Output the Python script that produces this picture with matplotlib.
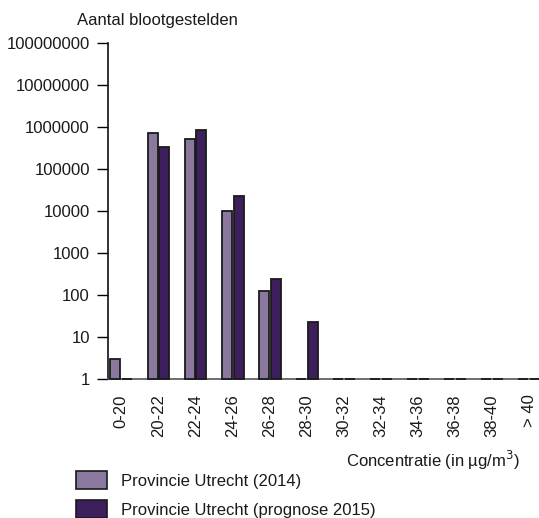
import numpy as np
import matplotlib
matplotlib.use("Agg")
import matplotlib.pyplot as plt
from matplotlib.patches import Patch

plt.rcParams['font.family'] = ['Liberation Sans', 'DejaVu Sans']

categories = ["0-20", "20-22", "22-24", "24-26", "26-28", "28-30",
              "30-32", "32-34", "34-36", "36-38", "38-40", "> 40"]
# number of exposed people per concentration class (1 = none, sits on the baseline)
utrecht_2014 = [3, 730000, 510000, 10200, 126, 1, 1, 1, 1, 1, 1, 1]
utrecht_2015 = [1, 340000, 850000, 23000, 240, 23, 1, 1, 1, 1, 1, 1]
series_names = ["Provincie Utrecht (2014)", "Provincie Utrecht (prognose 2015)"]
y_ticks = [1, 10, 100, 1000, 10000, 100000, 1000000, 10000000, 100000000]

light = "#8a789f"
dark = "#3e1f5e"
edge = "#1a1a1a"
fs = 12

fig = plt.figure(figsize=(5.39, 5.18), dpi=100)
ax = fig.add_axes([108/539, 1 - 379/518, 1 - 108/539, (379 - 43)/518])

x = np.arange(len(categories))
w = 0.27
ax.bar(x - 0.16, np.array(utrecht_2014) - 1, w, bottom=1, color=light,
       edgecolor=edge, linewidth=1.3, zorder=3, clip_on=False)
ax.bar(x + 0.16, np.array(utrecht_2015) - 1, w, bottom=1, color=dark,
       edgecolor=edge, linewidth=1.3, zorder=3, clip_on=False)

ax.set_yscale("log")
ax.set_ylim(1, 1e8)
ax.set_xlim(-0.36, 11.26)
ax.set_yticks(y_ticks)
ax.set_yticklabels([str(v) for v in y_ticks], fontsize=fs, color="#1a1a1a")
ax.minorticks_off()
ax.tick_params(axis="y", length=8, width=1, direction="out", pad=5)
ax.set_xticks(x)
ax.set_xticklabels(categories, rotation=90, fontsize=fs, va="top", color="#1a1a1a")
ax.tick_params(axis="x", length=0, pad=11)

for s in ["top", "right"]:
    ax.spines[s].set_visible(False)
ax.spines["left"].set_color("#111111")
ax.spines["left"].set_linewidth(1.2)
ax.spines["bottom"].set_color("#555555")
ax.spines["bottom"].set_linewidth(1.2)

fig.text(157/539, 1 - 21/518, "Aantal blootgestelden", fontsize=fs,
         ha="center", va="center", color="#1a1a1a")
fig.text(520/539, 1 - 460/518, "Concentratie (in µg/m$^3$)", fontsize=fs,
         ha="right", va="center", color="#1a1a1a")

handles = [Patch(facecolor=light, edgecolor=edge, linewidth=1.2),
           Patch(facecolor=dark, edgecolor=edge, linewidth=1.2)]
fig.legend(handles, series_names, loc="upper left",
           bbox_to_anchor=(69/539, 1 - 464/518), frameon=False,
           fontsize=fs, handlelength=1.85, handleheight=1.35,
           labelspacing=0.62, handletextpad=0.85, borderaxespad=0,
           labelcolor="#1a1a1a")

fig.savefig("out.png", dpi=100)
